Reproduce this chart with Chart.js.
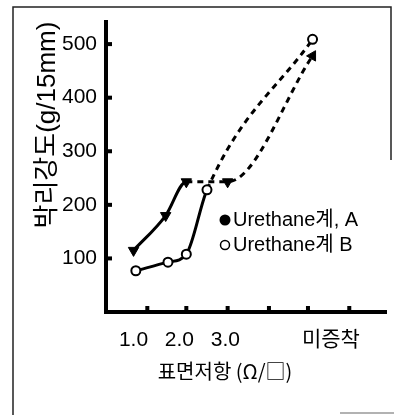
<!DOCTYPE html>
<html>
<head>
<meta charset="utf-8">
<script src="https://cdn.jsdelivr.net/npm/chart.js@4"></script>
<style>
  html, body { margin: 0; padding: 0; background: #fff; }
</style>
</head>
<body>
<canvas id="chart" width="394" height="415"></canvas>
<script>
// values (x = surface resistance position)
const resistA = [1.0, 1.7, 2.15, 3.05, 4.9];
const peelA = [115, 180, 243, 243, 478];
const resistB = [1.05, 1.75, 2.15, 2.6, 4.9];
const peelB = [77, 93, 108, 228, 509];

const xTickValues = [1.0, 2.0, 3.0, 5.3];
const xTickLabels = ['1.0', '2.0', '3.0', '미증착'];
const xMarkValues = [1.3, 2.15, 3.05, 3.95, 4.8, 5.7];
const yTickValues = [100, 200, 300, 400, 500];

const seriesNames = ['Urethane계, A', 'Urethane계 B'];
const xTitle = '표면저항 (Ω/□)';
const yTitle = '박리강도(g/15mm)';

const latin = '"Liberation Sans", "Noto Sans CJK KR", sans-serif';
const korean = '"Noto Sans CJK KR", "Liberation Sans", sans-serif';

const toPoints = (xs, ys) => xs.map((x, i) => ({ x: x, y: ys[i] }));

// frame, inner tick marks, x title and legend
const paper = {
  id: 'paper',
  afterDraw(chart) {
    const ctx = chart.ctx;
    const xs = chart.scales.x;
    const ys = chart.scales.y;
    ctx.save();

    ctx.strokeStyle = '#222';
    ctx.lineWidth = 1.5;
    ctx.beginPath();
    ctx.moveTo(13, 415); ctx.lineTo(13, 7); ctx.lineTo(391, 7); ctx.lineTo(391, 160);
    ctx.stroke();
    ctx.strokeStyle = '#999';
    ctx.beginPath();
    ctx.moveTo(340, 413); ctx.lineTo(394, 413);
    ctx.stroke();

    ctx.fillStyle = '#000';
    xMarkValues.forEach(v => {
      const px = xs.getPixelForValue(v);
      ctx.fillRect(px - 2, xs.top - 6, 4, 6);
    });
    yTickValues.forEach(v => {
      const py = ys.getPixelForValue(v);
      ctx.fillRect(ys.right, py - 2, 6, 4);
    });

    ctx.font = '20px ' + korean;
    ctx.textAlign = 'center';
    ctx.textBaseline = 'middle';
    ctx.fillText(xTitle, 225, 371);

    ctx.font = '20px ' + latin;
    ctx.textAlign = 'left';
    ctx.beginPath();
    ctx.arc(225, 220, 5.5, 0, Math.PI * 2);
    ctx.fill();
    ctx.fillText(seriesNames[0], 233, 220);
    ctx.lineWidth = 1.5;
    ctx.strokeStyle = '#000';
    ctx.beginPath();
    ctx.arc(225, 245, 4.5, 0, Math.PI * 2);
    ctx.stroke();
    ctx.fillText(seriesNames[1], 233, 245);

    ctx.restore();
  }
};

new Chart(document.getElementById('chart'), {
  type: 'line',
  data: {
    datasets: [{
      label: seriesNames[0],
      data: toPoints(resistA, peelA),
      borderColor: '#000',
      borderWidth: 3,
      cubicInterpolationMode: 'monotone',
      pointStyle: 'triangle',
      pointRadius: 6,
      pointRotation: [180, 180, 180, 180, 30],
      pointBackgroundColor: '#000',
      pointBorderColor: '#000',
      pointBorderWidth: 1,
      segment: {
        borderDash: ctx => ctx.p0DataIndex >= 2 ? [6, 5] : undefined
      }
    }, {
      label: seriesNames[1],
      data: toPoints(resistB, peelB),
      borderColor: '#000',
      borderWidth: 3,
      cubicInterpolationMode: 'monotone',
      pointStyle: 'circle',
      pointRadius: 4.5,
      pointBackgroundColor: '#fff',
      pointBorderColor: '#000',
      pointBorderWidth: 2,
      segment: {
        borderDash: ctx => ctx.p0DataIndex >= 3 ? [6, 5] : undefined
      }
    }]
  },
  options: {
    responsive: false,
    animation: false,
    layout: { padding: { top: 15, right: 8, bottom: 0, left: 0 } },
    plugins: {
      legend: { display: false },
      tooltip: { enabled: false }
    },
    scales: {
      x: {
        type: 'linear',
        min: 0.4,
        max: 6.5,
        grid: { display: false, drawTicks: false },
        border: { display: true, width: 4, color: '#000' },
        afterBuildTicks: scale => { scale.ticks = xTickValues.map(v => ({ value: v })); },
        afterFit: scale => { scale.height = 103; },
        ticks: {
          autoSkip: false,
          maxRotation: 0,
          padding: 16,
          color: '#000',
          font: { size: 21, family: latin },
          callback: (v, i) => xTickLabels[i]
        }
      },
      y: {
        min: 0,
        max: 542,
        grid: { display: false, drawTicks: false },
        border: { display: true, width: 4, color: '#000' },
        afterBuildTicks: scale => { scale.ticks = yTickValues.map(v => ({ value: v })); },
        afterFit: scale => { scale.width = 106; },
        ticks: {
          padding: 9,
          color: '#000',
          font: { size: 21, family: latin }
        },
        title: {
          display: true,
          text: yTitle,
          align: 'end',
          color: '#000',
          font: { size: 26, family: latin },
          padding: { top: 32, bottom: 0 }
        }
      }
    }
  },
  plugins: [paper]
});
</script>
</body>
</html>
